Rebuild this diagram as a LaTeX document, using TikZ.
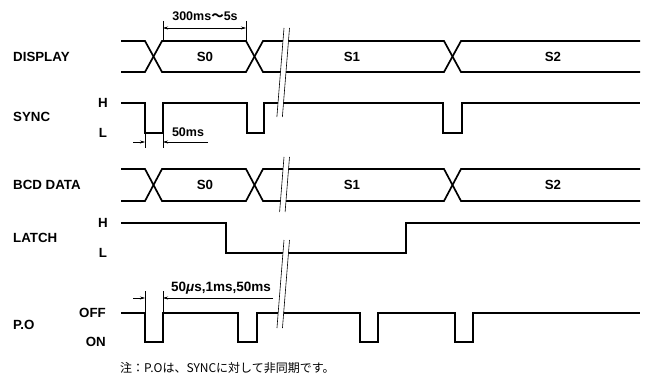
\documentclass[tikz,border=0pt]{standalone}
\usepackage{fontspec}
\setmainfont{Liberation Sans}
\newfontfamily\cjk{Noto Sans CJK JP}
\usetikzlibrary{arrows.meta}
\begin{document}
\begin{tikzpicture}[x=1pt,y=-1pt,
  sig/.style={line width=1.7pt, line join=miter, line cap=butt},
  dim/.style={line width=0.5pt},
  arr/.style={-{Stealth[length=5pt,width=3pt]}, line width=0.5pt},
  darr/.style={{Stealth[length=5pt,width=3pt]}-{Stealth[length=5pt,width=3pt]}, line width=0.5pt},
  lbl/.style={font=\bfseries\fontsize{13.3}{13.3}\selectfont, inner sep=0pt},
  txt/.style={font=\bfseries\fontsize{12.5}{12.5}\selectfont, inner sep=0pt},
  brk/.style={line width=0.6pt}
]
\useasboundingbox (0,0) rectangle (648,385);

% ---------- buses ----------
\foreach \T/\B in {41/72, 169/201}{
  \draw[sig] (121,\T) -- (145,\T) -- (162,\B) -- (246,\B) -- (263,\T) -- (444,\T) -- (461,\B) -- (640,\B);
  \draw[sig] (121,\B) -- (145,\B) -- (162,\T) -- (246,\T) -- (263,\B) -- (444,\B) -- (461,\T) -- (640,\T);
}

% ---------- SYNC ----------
\draw[sig] (121,103) -- (145,103) -- (145,133) -- (163,133) -- (163,103)
  -- (247,103) -- (247,133) -- (264,133) -- (264,103)
  -- (443,103) -- (443,133) -- (462,133) -- (462,103) -- (640,103);

% ---------- LATCH ----------
\draw[sig] (121,223) -- (226,223) -- (226,253) -- (406,253) -- (406,223) -- (640,223);

% ---------- P.O ----------
\draw[sig] (121,313) -- (145,313) -- (145,342) -- (163,342) -- (163,313)
  -- (238,313) -- (238,342) -- (257,342) -- (257,313)
  -- (360,313) -- (360,342) -- (378,342) -- (378,313)
  -- (455,313) -- (455,342) -- (473,342) -- (473,313) -- (640,313);

% ---------- breaks ----------
\foreach \ya/\yb in {28/117, 157/212, 240/328}{
  \pgfmathsetmacro{\xb}{284-0.08*(\yb-\ya)}
  \fill[white] (284,\ya) -- (289.5,\ya) -- (\xb+5.5,\yb) -- (\xb,\yb) -- cycle;
  \draw[brk] (284,\ya) -- (\xb,\yb);
  \draw[brk] (289.5,\ya) -- (\xb+5.5,\yb);
}

% ---------- labels ----------
\node[lbl, anchor=west] (ldisp) at (13,57) {DISPLAY};
\node[lbl, anchor=west] (lsync) at (13,117) {SYNC};
\node[lbl, anchor=west] (lbcd) at (13,185) {BCD DATA};
\node[lbl, anchor=west] (llatch) at (13,238) {LATCH};
\node[lbl, anchor=west] (lpo) at (13,325) {P.O};

\node[lbl] (sh) at (103,103) {H};
\node[lbl] (sl) at (103,133) {L};
\node[lbl] (lh) at (103,223) {H};
\node[lbl] (ll) at (103,253) {L};
\node[lbl, anchor=east] (poff) at (106,313) {OFF};
\node[lbl, anchor=east] (pon) at (106,342) {ON};

\node[lbl] (d0) at (205,57) {S0};
\node[lbl] (d1) at (352,57) {S1};
\node[lbl] (d2) at (553,57) {S2};
\node[lbl] (b0) at (205,185) {S0};
\node[lbl] (b1) at (352,185) {S1};
\node[lbl] (b2) at (553,185) {S2};

% ---------- dimension 300ms ----------
\draw[dim] (163,21) -- (163,41);
\draw[dim] (246,21) -- (246,41);
\draw[darr] (163,28) -- (246,28);
\node[txt] (t300) at (205,16) {300ms{\cjk ～}5s};

% ---------- dimension 50ms ----------
\draw[dim] (145,133) -- (145,148);
\draw[dim] (163,133) -- (163,148);
\draw[arr] (133,142) -- (145,142);
\draw[arr] (208,142) -- (163,142);
\node[txt] (t50) at (188,132) {50ms};

% ---------- dimension P.O ----------
\draw[dim] (145,291) -- (145,313);
\draw[dim] (163,291) -- (163,313);
\draw[arr] (133,298) -- (145,298);
\draw[arr] (273,298) -- (163,298);
\node[txt, font=\bfseries\fontsize{13.5}{13.5}\selectfont] (tpo) at (221,288) {50{\itshape μ}s,1ms,50ms};

% ---------- note ----------
\node[font=\cjk\fontsize{12}{12}\selectfont, anchor=west, inner sep=0pt] (note) at (120,368) {注：P.Oは、SYNCに対して非同期です。};
\end{tikzpicture}
\end{document}
